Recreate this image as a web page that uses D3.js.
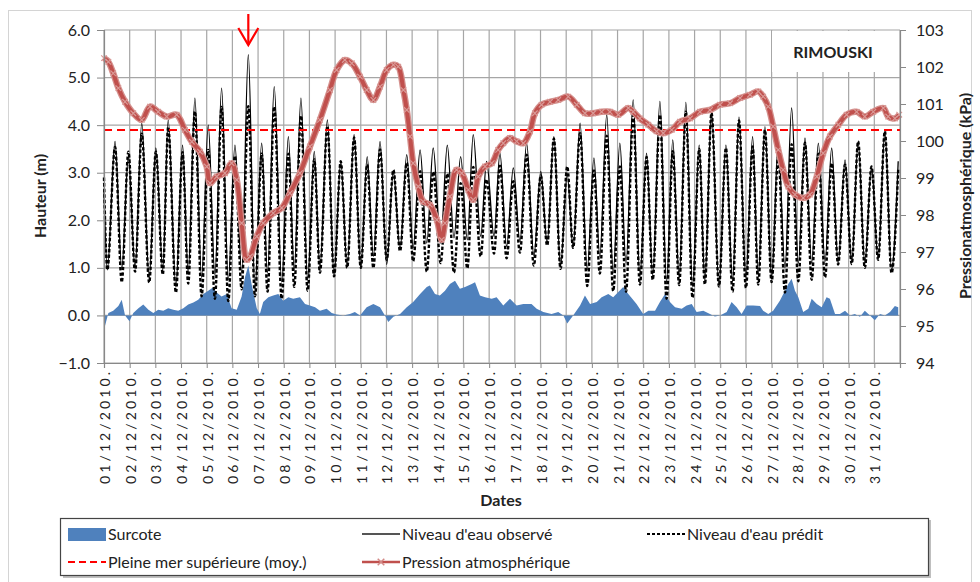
<!DOCTYPE html>
<html>
<head>
<meta charset="utf-8">
<script src="https://cdn.jsdelivr.net/npm/d3@7"></script>
<style>
  body { margin: 0; background: #fff; }
  svg text { font-family: Lato, "Liberation Sans", sans-serif; fill: #222; }
</style>
</head>
<body>
<svg id="chart" width="980" height="582"></svg>
<script>
// --- data ---
// tide extremes: day offset from 01/12/2010 00:00, observed and predicted height (m)
const tideDays = [0.00,0.13,0.43,0.69,0.95,1.21,1.47,1.76,2.02,2.29,2.50,2.80,3.06,3.28,3.54,3.80,4.06,4.32,4.58,4.84,
  5.10,5.36,5.62,5.88,6.14,6.37,6.63,6.92,7.18,7.41,7.67,7.93,8.19,8.41,8.70,8.96,9.22,9.47,9.74,10.00,
  10.25,10.49,10.75,11.01,11.27,11.53,11.79,12.04,12.31,12.57,12.82,13.11,13.37,13.63,13.89,14.15,14.38,14.67,14.90,15.19,
  15.42,15.68,15.94,16.20,16.46,16.74,17.01,17.26,17.52,17.78,18.04,18.27,18.54,18.82,19.08,19.31,19.58,19.83,20.09,20.33,
  20.61,20.87,21.13,21.37,21.65,21.91,22.15,22.40,22.66,22.92,23.18,23.40,23.66,23.95,24.22,24.48,24.73,25.00,25.26,25.48,
  25.74,26.00,26.26,26.52,26.78,27.04,27.30,27.56,27.82,28.08,28.34,28.59,28.86,29.12,29.37,29.63,29.89,30.15,30.41,30.67,30.93];
const observed = [2.64,0.96,3.66,0.98,3.34,1.00,4.04,0.79,3.52,0.96,4.11,0.60,3.58,0.90,4.57,0.80,4.00,0.85,4.78,0.75,
  3.58,0.90,5.48,0.55,3.62,0.90,4.81,0.70,3.76,0.95,4.57,0.75,3.45,1.00,4.11,0.85,3.24,1.03,3.80,1.00,
  3.34,1.24,3.66,1.07,3.03,1.38,3.38,1.42,3.48,1.52,3.52,1.52,3.58,1.63,3.34,1.59,3.80,1.66,3.24,1.66,
  3.41,1.45,3.10,1.55,3.62,1.24,3.03,1.52,3.76,1.03,2.96,1.42,4.04,0.96,3.31,1.24,4.22,0.89,3.62,1.10,
  4.53,0.82,3.41,0.85,4.50,0.70,3.69,0.79,4.48,0.61,3.58,0.75,4.29,0.61,3.58,0.71,4.17,0.79,3.76,0.85,
  3.97,0.79,3.62,1.00,4.36,1.10,3.73,1.10,3.62,1.13,3.52,1.10,3.27,1.10,3.66,1.10,3.13,1.17,3.87,0.96,3.24];
const predicted = [2.90,0.96,3.54,0.70,3.44,0.92,3.82,0.69,3.44,0.86,3.96,0.48,3.43,0.67,4.29,0.40,3.48,0.35,4.38,0.30,
  3.35,0.55,4.40,0.40,3.40,0.50,4.39,0.35,3.40,0.60,4.20,0.52,3.28,0.90,3.98,0.82,3.24,1.00,3.74,1.00,
  3.17,1.00,3.49,1.17,3.06,1.35,3.21,1.14,3.03,0.92,3.02,1.10,2.98,0.90,2.78,0.99,3.12,1.24,2.86,1.30,
  3.15,1.20,2.82,1.32,3.38,1.05,2.94,1.47,3.72,0.98,3.13,1.42,3.83,0.62,3.05,0.88,3.78,0.51,3.13,0.50,
  4.21,0.65,3.33,0.75,4.22,0.35,3.45,0.64,4.28,0.37,3.50,0.65,4.26,0.61,3.52,0.50,4.10,0.58,3.55,0.65,
  3.90,0.70,3.35,0.48,3.60,0.72,3.63,0.75,3.40,0.80,3.20,1.07,3.17,1.08,3.66,1.00,3.13,1.17,3.87,0.89,3.07];

// surge (m)
const surcoteDays = [0.00,0.17,0.36,0.56,0.69,0.82,0.99,1.14,1.34,1.53,1.73,1.92,2.11,2.31,2.50,2.70,2.89,3.09,3.28,3.48,
  3.67,3.87,4.06,4.23,4.39,4.58,4.78,4.97,5.17,5.36,5.49,5.62,5.75,5.95,6.07,6.20,6.40,6.59,6.79,6.98,
  7.18,7.37,7.63,7.83,8.02,8.22,8.41,8.67,8.87,9.06,9.32,9.58,9.77,9.97,10.23,10.49,10.75,10.94,11.07,11.27,
  11.53,11.79,12.04,12.31,12.57,12.69,12.89,13.08,13.28,13.47,13.67,13.86,14.06,14.32,14.45,14.64,14.84,15.10,15.29,15.55,
  15.81,16.07,16.33,16.65,16.85,17.11,17.43,17.69,17.89,18.04,18.27,18.54,18.73,18.93,19.19,19.38,19.64,19.83,20.03,20.22,
  20.42,20.74,21.00,21.20,21.46,21.65,21.85,22.04,22.24,22.50,22.69,22.89,23.08,23.34,23.60,23.79,23.99,24.25,24.44,24.64,
  24.83,25.03,25.28,25.55,25.67,25.87,26.06,26.32,26.52,26.65,26.78,26.91,27.04,27.23,27.43,27.56,27.76,27.95,28.14,28.27,
  28.47,28.66,28.86,29.05,29.24,29.44,29.63,29.83,30.02,30.22,30.41,30.61,30.80,30.93];
const surcoteVals = [-0.30,0.05,0.10,0.20,0.33,0.00,-0.12,0.05,0.15,0.23,0.12,0.05,0.12,0.10,0.15,0.12,0.10,0.15,0.23,0.27,
  0.33,0.45,0.52,0.58,0.48,0.40,0.45,0.15,0.12,0.40,0.80,1.05,0.65,0.15,0.03,0.28,0.38,0.42,0.45,0.31,
  0.38,0.35,0.38,0.24,0.21,0.17,0.10,0.14,0.05,0.02,0.00,0.03,0.07,0.00,0.17,0.24,0.17,0.00,-0.14,-0.03,
  0.03,0.17,0.28,0.45,0.60,0.63,0.45,0.42,0.52,0.66,0.73,0.56,0.60,0.66,0.70,0.42,0.38,0.35,0.38,0.21,
  0.35,0.21,0.24,0.24,0.14,0.07,0.03,0.07,0.00,-0.17,0.00,0.21,0.42,0.24,0.28,0.38,0.45,0.38,0.49,0.60,
  0.45,0.24,0.03,0.10,0.10,0.28,0.45,0.28,0.17,0.14,0.21,0.24,0.07,0.10,0.03,-0.02,0.00,0.07,0.28,0.17,
  0.03,0.21,0.21,0.20,0.10,0.03,0.10,0.31,0.52,0.66,0.77,0.52,0.38,0.07,0.14,0.35,0.24,0.17,0.38,0.35,
  0.03,0.03,0.10,0.00,0.03,-0.03,0.10,0.00,-0.10,0.03,0.00,0.07,0.20,0.17];

// atmospheric pressure (kPa)
const pressureDays = [0.00,0.17,0.36,0.56,0.82,1.14,1.47,1.79,2.11,2.44,2.83,3.15,3.42,3.74,4.00,4.13,4.39,4.71,4.97,5.17,
  5.36,5.56,5.69,5.95,6.20,6.59,6.92,7.24,7.63,8.02,8.41,8.80,9.06,9.38,9.65,9.97,10.23,10.49,10.75,11.01,
  11.27,11.46,11.66,11.79,11.92,12.04,12.24,12.43,12.69,12.96,13.15,13.28,13.47,13.73,13.93,14.19,14.38,14.58,14.84,15.10,
  15.35,15.55,15.81,16.07,16.33,16.59,16.78,17.04,17.37,17.69,18.08,18.41,18.73,19.05,19.38,19.70,20.03,20.42,20.61,20.87,
  21.20,21.52,21.78,22.11,22.43,22.82,23.21,23.60,23.99,24.38,24.77,25.16,25.48,25.67,25.87,26.06,26.26,26.45,26.65,26.91,
  27.23,27.49,27.76,28.01,28.27,28.60,28.92,29.31,29.63,29.96,30.35,30.54,30.80,30.97];
const pressureVals = [102.24,102.14,101.83,101.43,101.06,100.75,100.57,100.93,100.79,100.66,100.71,100.30,99.98,99.71,99.31,98.86,99.04,99.13,99.40,98.95,
  97.78,96.79,96.88,97.42,97.78,98.05,98.19,98.59,99.13,99.85,100.57,101.38,101.92,102.19,102.10,101.74,101.38,101.11,101.47,101.92,
  102.06,102.01,101.38,100.84,100.12,99.40,98.77,98.36,98.28,97.87,97.33,97.78,98.50,99.22,99.13,98.68,98.41,99.04,99.31,99.40,
  99.76,99.94,100.08,99.99,99.94,100.26,100.75,100.98,101.06,101.11,101.20,100.98,100.75,100.75,100.79,100.79,100.71,100.89,100.79,100.61,
  100.44,100.26,100.21,100.30,100.52,100.61,100.79,100.84,100.98,101.02,101.16,101.25,101.34,101.20,100.93,100.39,99.76,99.22,98.77,98.55,
  98.46,98.55,99.04,99.67,100.12,100.44,100.71,100.79,100.66,100.79,100.89,100.66,100.61,100.71];

const meanHighWater = 3.9;
const heightTicks = [-1, 0, 1, 2, 3, 4, 5, 6];
const pressureTicks = [94, 95, 96, 97, 98, 99, 100, 101, 102, 103];
const startDate = new Date(2010, 11, 1);
const endDate = new Date(2011, 0, 1);

// --- layout ---
const svg = d3.select("#chart");
const plotL = 104, plotR = 900, plotT = 30, plotB = 363;

const x = d3.scaleTime().domain([startDate, endDate]).range([plotL, plotR]);
const y = d3.scaleLinear().domain([-1, 6]).range([plotB, plotT]);
const yP = d3.scaleLinear().domain([94, 103]).range([plotB, plotT]);
const dayX = d => x(d3.timeMinute.offset(startDate, Math.round(d * 1440)));
const days = d3.timeDay.range(startDate, endDate);

// outer chart frame
svg.append("rect").attr("x", 8.5).attr("y", 10.5).attr("width", 963).attr("height", 600)
  .attr("fill", "none").attr("stroke", "#d4d4d4");

// gridlines
const grid = svg.append("g").attr("stroke", "#a6a6a6").attr("stroke-width", 1.2);
grid.selectAll("line.h").data(heightTicks).enter().append("line")
  .attr("x1", plotL).attr("x2", plotR).attr("y1", d => y(d)).attr("y2", d => y(d));
grid.selectAll("line.v").data(days.concat([endDate])).enter().append("line")
  .attr("x1", d => x(d)).attr("x2", d => x(d)).attr("y1", plotT).attr("y2", plotB);

// location box
svg.append("rect").attr("x", 772).attr("y", plotT + 1).attr("width", plotR - 773).attr("height", 41).attr("fill", "#fff");
svg.append("text").attr("x", 833).attr("y", 58).attr("text-anchor", "middle")
  .attr("font-size", 16).attr("font-weight", "bold").text("RIMOUSKI");

// surge area
const surge = surcoteDays.map((d, i) => ({ d, v: surcoteVals[i] }));
svg.append("path").datum(surge)
  .attr("fill", "#4f81bd")
  .attr("d", d3.area().x(p => dayX(p.d)).y0(y(0)).y1(p => y(p.v)));

// tide lines
const tideObs = tideDays.map((d, i) => ({ d, v: observed[i] }));
const tidePred = tideDays.map((d, i) => ({ d, v: predicted[i] }));
const tideLine = d3.line().x(p => dayX(p.d)).y(p => y(p.v)).curve(d3.curveMonotoneX);

svg.append("path").datum(tideObs).attr("fill", "none")
  .attr("stroke", "#000").attr("stroke-width", 1.3).attr("d", tideLine);
svg.append("path").datum(tidePred).attr("fill", "none")
  .attr("stroke", "#000").attr("stroke-width", 2.4).attr("stroke-dasharray", "3.5,2").attr("d", tideLine);

// mean higher high water
svg.append("line").attr("x1", plotL).attr("x2", plotR)
  .attr("y1", y(meanHighWater)).attr("y2", y(meanHighWater))
  .attr("stroke", "#ff0000").attr("stroke-width", 2).attr("stroke-dasharray", "8,5");

// pressure: dense x markers give the series a fuzzy band look
const press = pressureDays.map((d, i) => ({ d, v: pressureVals[i] }));
const pLine = d3.line().x(p => dayX(p.d)).y(p => yP(p.v)).curve(d3.curveCatmullRom);
svg.append("path").datum(press).attr("fill", "none")
  .attr("stroke", "#d4908d").attr("stroke-width", 6.5).attr("stroke-linejoin", "round").attr("d", pLine);
svg.append("path").datum(press).attr("fill", "none")
  .attr("stroke", "#c0504d").attr("stroke-width", 4).attr("stroke-linejoin", "round").attr("d", pLine);
svg.append("g").selectAll("path").data(press).enter().append("path")
  .attr("d", d3.symbol(d3.symbolX, 22)())
  .attr("transform", p => `translate(${dayX(p.d)},${yP(p.v)})`)
  .attr("fill", "none").attr("stroke", "#d99a97").attr("stroke-width", 1.2);

// axes
const axisL = svg.append("g").attr("transform", `translate(${plotL},0)`)
  .call(d3.axisLeft(y).tickValues(heightTicks).tickFormat(d3.format(".1f")).tickSize(7).tickPadding(7));
const axisR = svg.append("g").attr("transform", `translate(${plotR},0)`)
  .call(d3.axisRight(yP).tickValues(pressureTicks).tickSize(6).tickPadding(10));
const axisB = svg.append("g").attr("transform", `translate(0,${plotB})`)
  .call(d3.axisBottom(x).tickValues(days.concat([endDate])).tickFormat("").tickSize(5));

[axisL, axisR, axisB].forEach(a => {
  a.select(".domain").attr("stroke", "#888").attr("stroke-width", 1.2);
  a.selectAll(".tick line").attr("stroke", "#888");
  a.selectAll("text").attr("font-size", 16).attr("fill", "#222").attr("font-family", "Lato, sans-serif");
});

// rotated date labels
const fmt = d3.timeFormat("%d/%m/%Y.");
svg.append("g").selectAll("text").data(days).enter().append("text")
  .attr("transform", d => `translate(${x(d) + 6},372) rotate(-90)`)
  .attr("text-anchor", "end")
  .attr("font-size", 14)
  .attr("textLength", 112).attr("lengthAdjust", "spacing")
  .text(d => fmt(d));

// axis titles
svg.append("text").attr("transform", "translate(46,196) rotate(-90)").attr("text-anchor", "middle")
  .attr("font-size", 16).attr("font-weight", "bold").text("Hauteur (m)");
svg.append("text").attr("transform", "translate(971,196) rotate(-90)").attr("text-anchor", "middle")
  .attr("font-size", 16).attr("font-weight", "bold").text("Pressionatmosphérique (kPa)");
svg.append("text").attr("x", 501).attr("y", 506).attr("text-anchor", "middle")
  .attr("font-size", 16).attr("font-weight", "bold").text("Dates");

// red arrow pointing at the 06/12 peak
const arrowX = dayX(5.62);
const arrow = svg.append("g").attr("stroke", "#ff0000").attr("stroke-width", 2.2).attr("fill", "none");
arrow.append("line").attr("x1", arrowX).attr("x2", arrowX).attr("y1", 14).attr("y2", 45);
arrow.append("path").attr("d", `M${arrowX - 10},28 L${arrowX},45 L${arrowX + 10},28`);

// legend
const lg = svg.append("g");
lg.append("rect").attr("x", 63).attr("y", 520).attr("width", 868).attr("height", 58).attr("fill", "#bfbfbf");
lg.append("rect").attr("x", 60.5).attr("y", 518.5).attr("width", 868).attr("height", 57)
  .attr("fill", "#fff").attr("stroke", "#444").attr("stroke-width", 1.2);

const legendItems = [
  { label: "Surcote", kind: "area", x: 68, y: 534 },
  { label: "Niveau d'eau observé", kind: "solid", x: 362, y: 534 },
  { label: "Niveau d'eau prédit", kind: "dash", x: 647, y: 534 },
  { label: "Pleine mer supérieure (moy.)", kind: "red", x: 68, y: 562 },
  { label: "Pression atmosphérique", kind: "press", x: 362, y: 562 }
];
legendItems.forEach(it => {
  const g = lg.append("g");
  if (it.kind === "area") {
    g.append("rect").attr("x", it.x).attr("y", it.y - 6).attr("width", 38).attr("height", 13).attr("fill", "#4f81bd");
  } else {
    const ln = g.append("line").attr("x1", it.x).attr("x2", it.x + 38).attr("y1", it.y).attr("y2", it.y);
    if (it.kind === "solid") ln.attr("stroke", "#555").attr("stroke-width", 2);
    if (it.kind === "dash") ln.attr("stroke", "#000").attr("stroke-width", 2).attr("stroke-dasharray", "3,2");
    if (it.kind === "red") ln.attr("stroke", "#ff0000").attr("stroke-width", 2).attr("stroke-dasharray", "7,4");
    if (it.kind === "press") {
      ln.attr("stroke", "#c0504d").attr("stroke-width", 2.5);
      g.append("path").attr("d", d3.symbol(d3.symbolX, 30)())
        .attr("transform", `translate(${it.x + 19},${it.y})`).attr("stroke", "#d38a87").attr("stroke-width", 1.5);
    }
  }
  g.append("text").attr("x", it.x + 40).attr("y", it.y + 6).attr("font-size", 16).text(it.label);
});
</script>
</body>
</html>
